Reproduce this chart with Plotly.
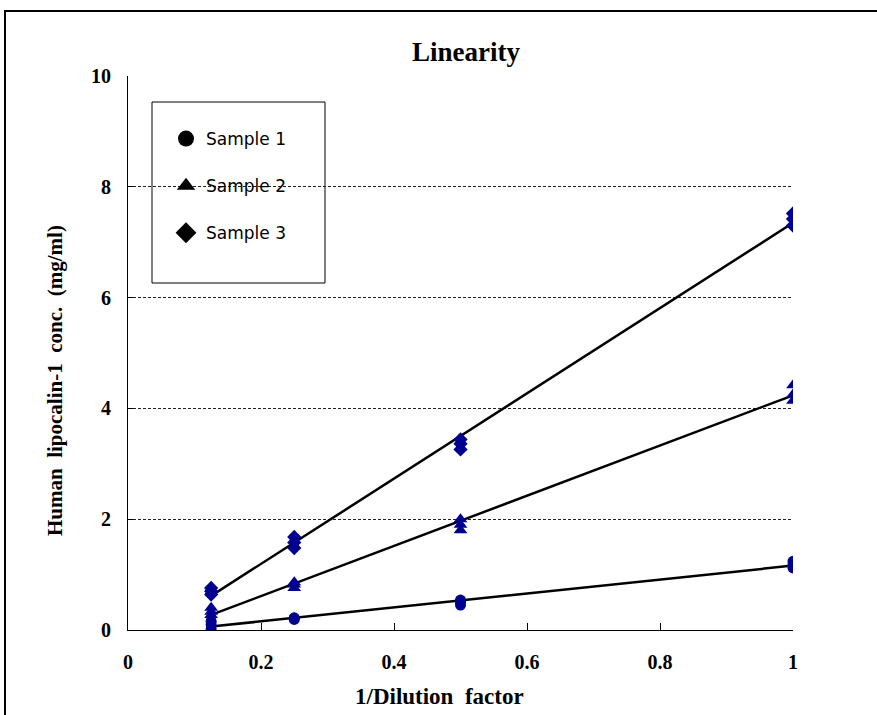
import numpy as np
import plotly.graph_objects as go

# ---- data ----
x_vals = [0.125, 0.125, 0.125, 0.25, 0.25, 0.25, 0.5, 0.5, 0.5, 1.0, 1.0, 1.0]
sample1 = [0.02, 0.10, 0.16, 0.19, 0.21, 0.22, 0.45, 0.50, 0.54, 1.12, 1.18, 1.24]
sample2 = [0.27, 0.33, 0.40, 0.76, 0.82, 0.86, 1.80, 1.90, 2.00, 4.14, 4.25, 4.42]
sample3 = [0.64, 0.70, 0.76, 1.48, 1.58, 1.68, 3.26, 3.36, 3.44, 7.30, 7.42, 7.52]
series_names = ["Sample 1", "Sample 2", "Sample 3"]
symbols = ["circle", "triangle-up", "diamond"]
x_ticks = [0, 0.2, 0.4, 0.6, 0.8, 1]
x_ticklabels = ["0", "0.2", "0.4", "0.6", "0.8", "1"]
y_ticks = [0, 2, 4, 6, 8, 10]

W, H = 877, 715
L, R, T, B = 128, 84, 76, 85
pw, ph = W - L - R, H - T - B


def px(p):
    return (p - L) / pw


def py(q):
    return (H - B - q) / ph


serif = "Liberation Serif"
sans = "DejaVu Sans"
navy = "#000090"

fig = go.Figure()

for name, ys, sym in zip(series_names, [sample1, sample2, sample3], symbols):
    slope, icpt = np.polyfit(x_vals, ys, 1)
    xs = [min(x_vals), max(x_vals)]
    fig.add_trace(go.Scatter(x=xs, y=[slope * v + icpt for v in xs], mode="lines",
                             line=dict(color="black", width=2.5), showlegend=False,
                             hoverinfo="skip"))
    fig.add_trace(go.Scatter(x=x_vals, y=ys, mode="markers", name=name,
                             marker=dict(symbol=sym, color=navy, size=11 if sym != "triangle-up" else 12),
                             showlegend=False))

for name, sym in zip(series_names, symbols):
    fig.add_trace(go.Scatter(x=[None], y=[None], mode="markers", name=name, legendgroup=name,
                             marker=dict(symbol=sym, color="black", size=18), showlegend=True))

fig.update_layout(
    width=W, height=H,
    margin=dict(l=L, r=R, t=T, b=B),
    paper_bgcolor="white", plot_bgcolor="white",
    xaxis=dict(range=[0, 1], tickvals=x_ticks, ticktext=x_ticklabels,
               showgrid=False, zeroline=False, showline=True, linecolor="black", linewidth=1,
               ticks="inside", ticklen=7, tickcolor="black",
               tickfont=dict(family=serif, size=20, color="black", weight="bold"),
               ticklabelstandoff=14),
    yaxis=dict(range=[0, 10], tickvals=y_ticks,
               showgrid=True, gridcolor="#222222", gridwidth=1, griddash="3px,2px",
               zeroline=False, showline=True, linecolor="black", linewidth=1,
               ticks="inside", ticklen=5, tickcolor="black",
               tickfont=dict(family=serif, size=20, color="black", weight="bold"),
               ticklabelstandoff=12),
    legend=dict(x=px(166), y=py(121), xanchor="left", yanchor="top",
                bgcolor="rgba(0,0,0,0)", borderwidth=0,
                font=dict(family=sans, size=17, color="black"),
                traceorder="grouped", tracegroupgap=22, itemsizing="trace"),
    showlegend=True,
    shapes=[
        dict(type="rect", xref="paper", yref="paper", x0=px(152), x1=px(325), y0=py(283), y1=py(102),
             line=dict(color="black", width=1), fillcolor="white", layer="below"),
        dict(type="rect", xref="paper", yref="paper", x0=px(5), x1=px(920), y0=py(760), y1=py(11),
             line=dict(color="black", width=2), fillcolor="rgba(0,0,0,0)"),
    ],
    annotations=[
        dict(text="Linearity", xref="paper", yref="paper", x=px(466), y=py(52), showarrow=False,
             xanchor="center", yanchor="middle",
             font=dict(family=serif, size=27, color="black", weight="bold")),
        dict(text="1/Dilution  factor", xref="paper", yref="paper", x=px(439), y=py(696), showarrow=False,
             xanchor="center", yanchor="middle",
             font=dict(family=serif, size=23, color="black", weight="bold")),
        dict(text="Human  lipocalin-1  conc.  (mg/ml)", xref="paper", yref="paper", x=px(55), y=py(381),
             textangle=-90, showarrow=False, xanchor="center", yanchor="middle",
             font=dict(family=serif, size=21, color="black", weight="bold")),
    ],
)

fig.write_html("out.html", config={"displayModeBar": False},
               post_script="document.body.style.margin='0';")
